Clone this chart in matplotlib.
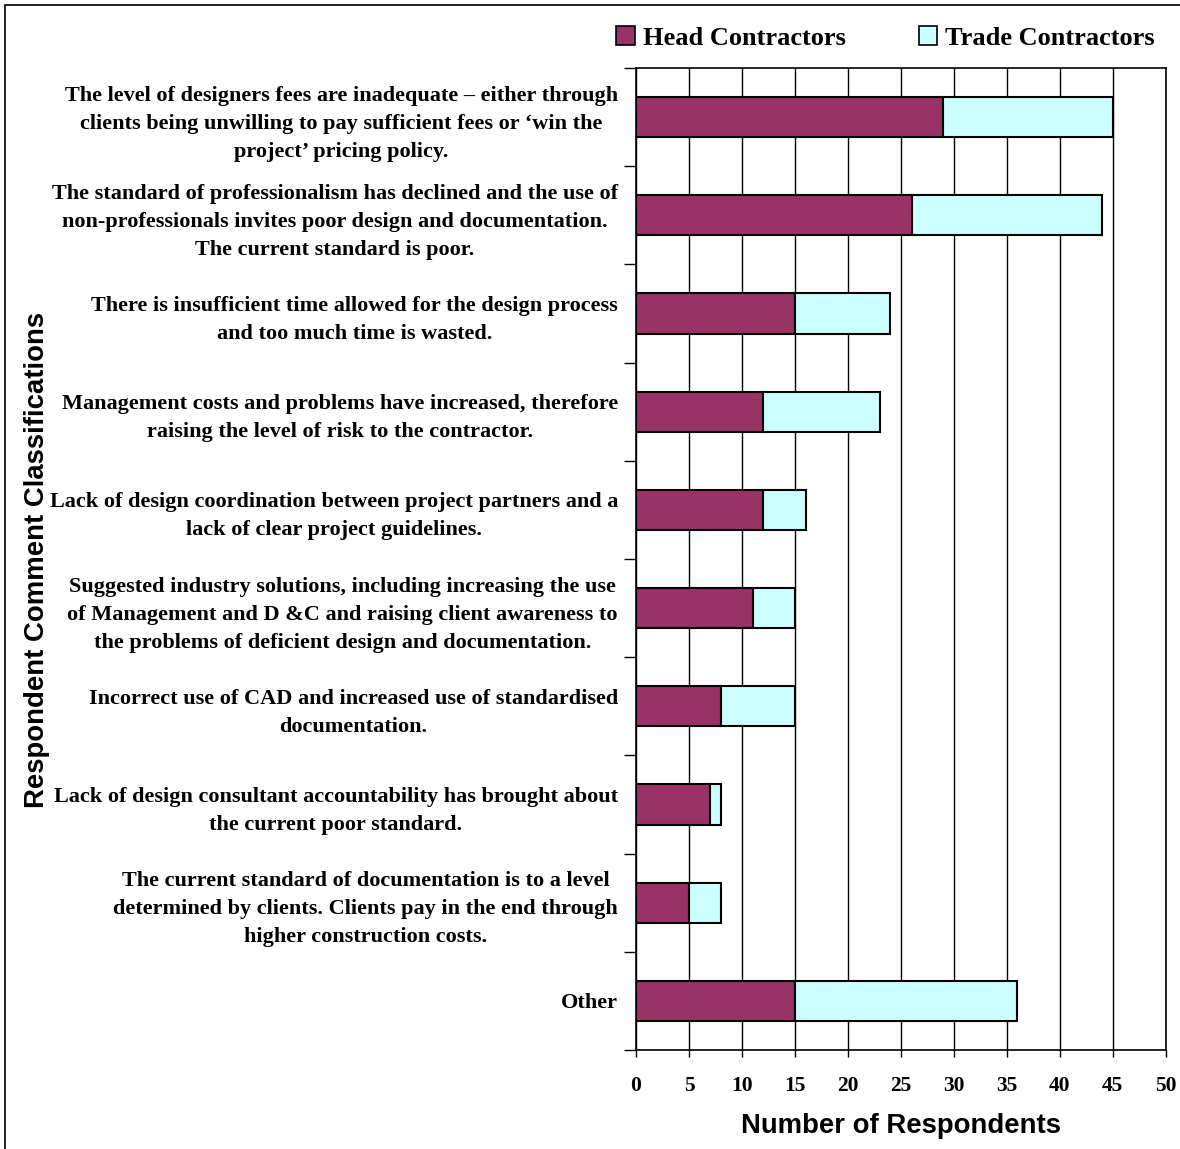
import numpy as np
import matplotlib
matplotlib.use('Agg')
import matplotlib.pyplot as plt
from matplotlib.patches import Rectangle

categories = [
    "The level of designers fees are inadequate \u2013 either through\nclients being unwilling to pay sufficient fees or \u2018win the\nproject\u2019 pricing policy.",
    "The standard of professionalism has declined and the use of\nnon-professionals invites poor design and documentation.\nThe current standard is poor.",
    "There is insufficient time allowed for the design process\nand too much time is wasted.",
    "Management costs and problems have increased, therefore\nraising the level of risk to the contractor.",
    "Lack of design coordination between project partners and a\nlack of clear project guidelines.",
    "Suggested industry solutions, including increasing the use\nof Management and D &C and raising client awareness to\nthe problems of deficient design and documentation.",
    "Incorrect use of CAD and increased use of standardised\ndocumentation.",
    "Lack of design consultant accountability has brought about\nthe current poor standard.",
    "The current standard of documentation is to a level\ndetermined by clients. Clients pay in the end through\nhigher construction costs.",
    "Other",
]
head = [29, 26, 15, 12, 12, 11, 8, 7, 5, 15]
trade = [16, 18, 9, 11, 4, 4, 7, 1, 3, 21]
x_ticks = [0, 5, 10, 15, 20, 25, 30, 35, 40, 45, 50]

head_color = '#993366'
trade_color = '#CCFFFF'

fig = plt.figure(figsize=(11.8, 11.49), dpi=100)
ax = fig.add_axes([0.539, 0.0862, 0.449, 0.8546])

# figure border
fig.patches.append(Rectangle((5/1180, -0.01), 1.02, 1 - 5/1149 + 0.01,
                             transform=fig.transFigure, fill=False,
                             edgecolor='black', lw=1.2))

y = np.arange(len(categories))
ax.barh(y, head, height=0.41, color=head_color, edgecolor='black', lw=1.5,
        label='Head Contractors', zorder=3)
ax.barh(y, trade, left=head, height=0.41, color=trade_color, edgecolor='black',
        lw=1.5, label='Trade Contractors', zorder=3)

ax.set_xlim(0, 50)
ax.set_ylim(len(categories) - 0.5, -0.5)
ax.set_xticks(x_ticks)
ax.set_xticklabels([str(t) for t in x_ticks], fontfamily='Liberation Serif',
                   fontweight='bold', fontsize=15.5)
ax.tick_params(axis='x', length=5, width=1, pad=14)
ax.xaxis.grid(True, color='black', lw=1, zorder=0)

ax.set_yticks(y)
ax.set_yticklabels(categories, fontfamily='Liberation Serif', fontweight='bold',
                   fontsize=16, linespacing=1.54, ha='right')
for lab in ax.get_yticklabels():
    lab.set_multialignment('center')
ax.tick_params(axis='y', length=0, pad=13)
ax.set_yticks(np.arange(len(categories) + 1) - 0.5, minor=True)
ax.tick_params(axis='y', which='minor', length=9, width=1)

for s in ax.spines.values():
    s.set_linewidth(1.2)

ax.set_xlabel('Number of Respondents', fontfamily='Liberation Sans',
              fontweight='bold', fontsize=19.8, labelpad=12)
fig.text(37/1180, 1 - 560/1149, 'Respondent Comment Classifications',
         rotation=90, ha='center', va='center', fontfamily='Liberation Sans',
         fontweight='bold', fontsize=19.8)

leg = ax.legend(loc='center right', bbox_to_anchor=(1 - 11/530, 1 + 30/982),
                ncol=2, frameon=False, handlelength=0.7, handleheight=0.7,
                columnspacing=2.77, handletextpad=0.3, borderaxespad=0,
                borderpad=0,
                prop={'family': 'Liberation Serif', 'weight': 'bold', 'size': 19})
for h in leg.legend_handles:
    h.set_linewidth(1.2)

fig.savefig('out.png', dpi=100)
